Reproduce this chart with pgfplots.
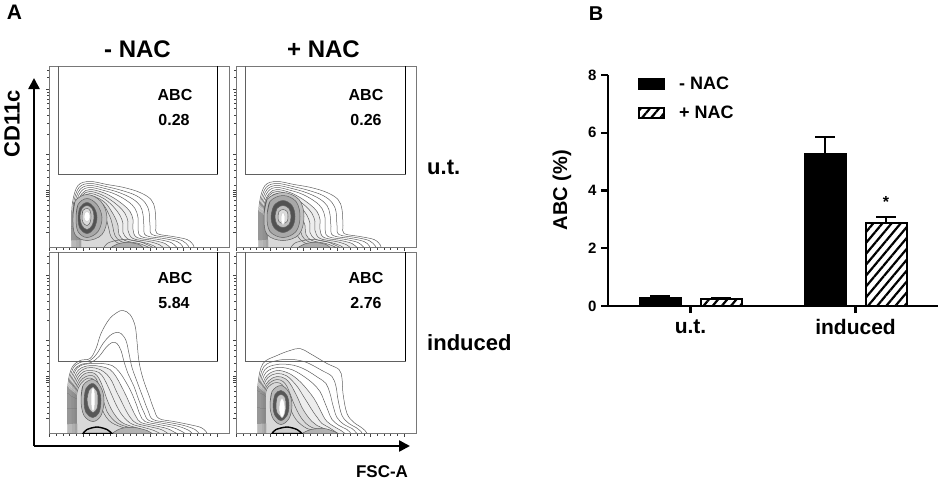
\documentclass[border=0pt]{standalone}
\usepackage{fontspec}
\setmainfont{Liberation Sans}
\usepackage{pgfplots}
\pgfplotsset{compat=1.18}
\usetikzlibrary{arrows.meta, patterns.meta}

\newcommand\fs[1]{\fontsize{#1}{#1}\selectfont\bfseries}
\definecolor{cline}{RGB}{95,95,95}
\definecolor{frame}{RGB}{120,120,120}

\pgfplotsset{
  facs/.style={
    scale only axis, width=180pt, height=181pt,
    xmin=0, xmax=180, ymin=0, ymax=181,
    axis line style={frame, line width=0.6pt},
    tick align=outside, xtick pos=left, ytick pos=left,
    xtick={0.5,34,67.5,101,134.5,168}, minor x tick num=4,
    ytick={15,51,53,55,57,93.7,158},
    minor ytick={20,26,31,37,42,47,62,70,77,83,88,113,124,132,139,144,148,152,155,170,177},
    xticklabels={}, yticklabels={},
    major tick length=3pt, minor tick length=2pt,
    tick style={black!75, line width=0.6pt},
  },
  cl/.style={cline, line width=0.5pt, smooth, tension=0.6, mark=none},
  gate/.style={frame!80!black, line width=0.6pt, mark=none},
  legimg/.style={legend image code/.code={\draw[##1, line width=2pt] (0pt,-5pt) rectangle (25pt,5pt);}},
}

% contours shared by the two untreated panels
\newcommand\topouter{%
\addplot[cl] coordinates {(23,0)(22.5,22)(23.5,45)(29,62)(41,66)(58,63)(75,60)(91,55)(102,48)(106,38)(107,22)(108,14)(124,11)(138,8)(144,3)(145,0)};
\addplot[cl] coordinates {(24,0)(23.5,22)(24.5,44)(30,60)(41,64)(57,61)(73,57)(87,52)(96,45)(100,36)(101,22)(103,13)(120,10)(133,7)(139,2)(140,0)};
\addplot[cl] coordinates {(25,0)(24.5,22)(25.5,43)(31,58)(41,62)(56,59)(70,55)(83,49)(91,42)(94,33)(95,21)(97,12)(115,9)(128,6)(133,2)(134,0)};
\addplot[cl] coordinates {(26,0)(25.5,22)(26.5,42)(32,56)(41,60)(55,57)(67,53)(79,46)(86,39)(89,30)(89,20)(92,11)(110,8)(122,5)(127,1)(128,0)};
\addplot[cl, fill=gray!14] coordinates {(27,0)(26.5,22)(27.5,41)(33,54)(41,58)(54,55)(64,50)(74,43)(81,36)(84,28)(84,18)(88,10)(105,7)(116,4)(121,0)} \closedcycle;
\addplot[cl] coordinates {(28,0)(27.5,22)(28.5,40)(33,52)(41,56)(52,53)(61,48)(70,41)(76,34)(79,26)(79,17)(84,9)(100,6)(110,3)(114,0)};
\addplot[cl] coordinates {(29,0)(28.5,22)(29.5,39)(34,50)(41,54)(51,51)(59,46)(66,39)(71,32)(74,24)(74,15)(80,8)(95,5)(104,2)(107,0)};
\addplot[cl, fill=gray!30] coordinates {(30,0)(29.5,22)(30.5,38)(35,48)(41,52)(50,49)(57,44)(62,37)(66,30)(69,22)(70,13)(76,7)(90,4)(98,1)(100,0)} \closedcycle;
\addplot[cl] coordinates {(31,0)(30.5,22)(31.5,37)(36,46)(42,50)(49,47)(55,42)(59,35)(62,28)(64,20)(66,12)(72,6)(85,3)(92,0)};
\addplot[cl] coordinates {(32,0)(31.5,22)(32.5,36)(37,44)(42,47)(48,45)(53,40)(56,33)(58,26)(60,18)(62,11)(68,5)(80,2)(86,0)};
\addplot[cl] coordinates {(55,0)(60,5)(75,8)(90,6)(100,2)(104,0)};
\addplot[cl, fill=gray!65] coordinates {(62,0)(70,4)(80,5)(90,3)(94,0)} \closedcycle;
}

\begin{document}
\begin{tikzpicture}[x=1pt, y=1pt]
\useasboundingbox (0,0) rectangle (941,-480);

% ---------- panel A: big FSC-A / CD11c arrows ----------
\begin{axis}[at={(34pt,-446pt)}, anchor=south west, scale only axis,
  width=376pt, height=368pt, xmin=0, xmax=1, ymin=0, ymax=1,
  axis lines=left, xtick=\empty, ytick=\empty,
  axis line style={line width=2.4pt, -{Triangle[length=11pt, width=11pt]}}]
\end{axis}

% u.t. -NAC
\begin{axis}[facs, at={(49pt,-247.5pt)}, anchor=south west]
\topouter
\addplot[cl, fill=gray!50] coordinates {(24,30)(26,46)(38,53)(52,46)(58,30)(53,13)(38,7)(26,13)(24,30)(26,46)};
\addplot[cl, fill=gray!68] coordinates {(27,30)(29,43)(38,49)(48,43)(53,30)(49,16)(38,10)(29,16)(27,30)(29,43)};
\addplot[cl, fill=black!68] coordinates {(29,30)(31,40)(38,45)(45,40)(48,30)(45,19)(38,14)(31,19)(29,30)(31,40)};
\addplot[cl, fill=gray!50] coordinates {(31,31)(33,39)(38,42)(43,39)(45,31)(43,22)(38,18)(33,22)(31,31)(33,39)};
\addplot[cl, fill=gray!28] coordinates {(33,31)(34,37)(38,39)(41,37)(42,31)(41,25)(38,22)(34,25)(33,31)(34,37)};
\addplot[cl, draw=gray!40, fill=white] coordinates {(35,31)(36,35)(38,36)(40,35)(41,31)(40,27)(38,26)(36,27)(35,31)(36,35)};
\addplot[gate] coordinates {(9,182)(9,73.5)(168,73.5)(168,182)};
\addplot[black, line width=0.9pt, mark=none] coordinates {(168,182)(168,73.5)};
\end{axis}

% u.t. +NAC
\begin{axis}[facs, at={(236pt,-247.5pt)}, anchor=south west]
\topouter
\addplot[cl, fill=gray!50] coordinates {(28,31)(31,48)(47,55)(63,48)(68,31)(63,13)(47,7)(31,13)(28,31)(31,48)};
\addplot[cl, fill=gray!68] coordinates {(31,31)(34,46)(47,52)(60,46)(64,31)(60,16)(47,10)(34,16)(31,31)(34,46)};
\addplot[cl, fill=black!68] coordinates {(35,31)(38,42)(47,47)(56,42)(59,31)(56,20)(47,15)(38,20)(35,31)(38,42)};
\addplot[cl, fill=gray!50] coordinates {(39,31)(41,39)(47,42)(53,39)(55,31)(53,23)(47,20)(41,23)(39,31)(41,39)};
\addplot[cl, fill=gray!28] coordinates {(42,31)(43,36)(47,38)(51,36)(52,31)(51,26)(47,24)(43,26)(42,31)(43,36)};
\addplot[cl, draw=gray!40, fill=white] coordinates {(45,29)(45.5,33)(47,35)(48.5,33)(49,29)(48.5,25)(47,23)(45.5,25)(45,29)(45.5,33)};
\addplot[gate] coordinates {(9,182)(9,73.5)(169,73.5)(169,182)};
\addplot[black, line width=0.9pt, mark=none] coordinates {(169,182)(169,73.5)};
\end{axis}

% induced -NAC
\begin{axis}[facs, at={(49pt,-433.5pt)}, anchor=south west]
\addplot[cl] coordinates {(19,0)(18.5,25)(19,50)(23,66)(31,73)(41,75)(47,85)(52,100)(60,114)(68,121)(74,123)(81,119)(86,108)(88,92)(90,72)(94,55)(100,38)(105,24)(110,15)(125,12)(140,9)(152,6)(157,2)(158,0)};
\addplot[cl] coordinates {(20,0)(19.5,25)(20,49)(24,65)(31,71)(41,73)(48,80)(54,90)(61,98)(67,101)(72,100)(77,93)(80,80)(83,66)(88,52)(94,36)(99,23)(104,14)(120,11)(135,8)(146,4)(150,0)};
\addplot[cl] coordinates {(21,0)(20.5,25)(21,48)(25,63)(32,69)(42,71)(50,77)(57,86)(63,91)(68,90)(72,83)(75,72)(79,60)(85,47)(90,33)(95,21)(100,13)(115,10)(130,7)(140,3)(143,0)};
\addplot[cl] coordinates {(22,0)(21.5,25)(22,47)(26,62)(32,68)(42,70)(53,70)(63,68)(70,62)(76,53)(82,42)(87,30)(91,19)(96,12)(110,9)(124,6)(133,2)(136,0)};
\addplot[cl, fill=gray!14] coordinates {(23,0)(22.5,25)(23,46)(27,60)(33,66)(42,68)(52,67)(61,64)(67,57)(72,48)(77,38)(82,27)(87,17)(92,11)(105,8)(118,5)(126,1)(128,0)} \closedcycle;
\addplot[cl] coordinates {(24,0)(23.5,25)(24,45)(28,58)(34,64)(42,66)(51,64)(58,59)(63,52)(67,43)(72,33)(77,23)(82,15)(88,10)(100,7)(112,4)(119,0)};
\addplot[cl] coordinates {(25,0)(24.5,25)(25,44)(29,56)(35,62)(42,63)(50,61)(55,55)(59,47)(63,38)(67,29)(72,20)(78,13)(84,9)(95,6)(105,3)(111,0)};
\addplot[cl, fill=gray!30] coordinates {(26,0)(25.5,25)(26,43)(30,54)(36,60)(43,61)(48,58)(52,51)(55,43)(58,34)(62,25)(67,17)(73,11)(80,8)(90,5)(98,2)(103,0)} \closedcycle;
\addplot[cl] coordinates {(27,0)(26.5,25)(27,42)(31,52)(37,57)(43,58)(47,55)(50,48)(52,40)(55,31)(58,22)(63,15)(69,10)(77,7)(86,4)(93,1)(95,0)};
\addplot[cl] coordinates {(28,0)(27.5,25)(28,41)(32,50)(38,55)(43,55)(46,52)(48,45)(50,37)(52,28)(55,20)(60,13)(66,9)(74,6)(82,3)(87,0)};
\addplot[cl, fill=gray!55] coordinates {(32,33)(34,48)(44,54)(52,46)(55,33)(52,18)(44,12)(35,18)(32,33)(34,48)};
\addplot[cl, fill=black!66] coordinates {(35,33)(37,45)(44,50)(50,43)(52,33)(50,21)(44,16)(37,21)(35,33)(37,45)};
\addplot[cl, fill=gray!45] coordinates {(38,34)(40,43)(44,46)(48,42)(49,34)(48,25)(44,21)(40,25)(38,34)(40,43)};
\addplot[cl, draw=gray!40, fill=white] coordinates {(42,35)(42.5,43)(44,46)(45.5,43)(46,35)(45.5,26)(44,22)(42.5,26)(42,35)(42.5,43)};
\addplot[cl, fill=gray!60] coordinates {(63,0)(72,5)(85,6)(98,3)(103,0)} \closedcycle;
\addplot[smooth, black, line width=1.4pt, fill=gray!40, mark=none] coordinates {(34,0)(38,4)(48,6.5)(58,4)(63,0)} \closedcycle;
\addplot[gate] coordinates {(9,182)(9,72.5)(168,72.5)(168,182)};
\addplot[black, line width=0.9pt, mark=none] coordinates {(168,182)(168,72.5)};
\end{axis}

% induced +NAC
\begin{axis}[facs, at={(236pt,-433.5pt)}, anchor=south west]
\addplot[cl] coordinates {(22,0)(21.5,25)(22,50)(27,70)(41,78)(54,83)(64,85)(74,80)(91,70)(103,64)(106,55)(107,40)(111,20)(118,11)(124,7)(129,3)(131,0)};
\addplot[cl] coordinates {(23,0)(22.5,25)(23,49)(28,67)(41,73)(54,74)(64,73)(73,70)(86,63)(96,57)(100,47)(102,34)(106,18)(113,10)(120,6)(125,2)(126,0)};
\addplot[cl] coordinates {(24,0)(23.5,25)(24,48)(29,64)(41,69)(53,69)(62,67)(71,63)(82,56)(90,50)(94,40)(97,28)(101,16)(108,9)(116,5)(120,1)(121,0)};
\addplot[cl] coordinates {(25,0)(24.5,25)(25,47)(30,61)(41,66)(52,65)(60,62)(68,57)(77,50)(84,42)(88,33)(92,23)(96,14)(103,8)(111,4)(115,0)};
\addplot[cl, fill=gray!14] coordinates {(26,0)(25.5,25)(26,46)(31,58)(41,63)(51,61)(58,57)(65,51)(72,43)(78,35)(83,26)(87,18)(91,12)(98,7)(105,3)(109,0)} \closedcycle;
\addplot[cl] coordinates {(27,0)(26.5,25)(27,45)(32,56)(41,60)(50,58)(56,53)(62,46)(67,38)(72,30)(77,22)(82,15)(86,10)(93,6)(99,2)(102,0)};
\addplot[cl, fill=gray!30] coordinates {(28,0)(27.5,25)(28,44)(33,53)(41,57)(49,55)(54,50)(58,43)(62,35)(66,26)(71,18)(76,12)(81,8)(88,5)(93,2)(96,0)} \closedcycle;
\addplot[cl] coordinates {(29,0)(28.5,25)(29,43)(34,51)(41,54)(47,52)(51,47)(54,40)(57,32)(61,23)(65,16)(70,10)(76,6)(83,4)(88,1)(90,0)};
\addplot[cl] coordinates {(30,0)(29.5,25)(30,42)(35,49)(41,51)(46,49)(49,44)(51,37)(53,29)(56,21)(60,14)(65,9)(71,5)(78,3)(82,0)};
\addplot[cl, fill=gray!55] coordinates {(34,28)(36,42)(45,48)(53,41)(56,28)(53,15)(45,9)(37,15)(34,28)(36,42)};
\addplot[cl, fill=black!66] coordinates {(37,28)(39,39)(45,43)(51,38)(53,28)(51,18)(45,13)(39,18)(37,28)(39,39)};
\addplot[cl, fill=gray!45] coordinates {(40,28)(41,36)(45,39)(49,36)(50,28)(49,21)(45,17)(41,21)(40,28)(41,36)};
\addplot[cl, draw=gray!40, fill=white] coordinates {(43,25)(44,32)(46,35)(48,32)(49,25)(48,19)(46,16)(44,19)(43,25)(44,32)};
\addplot[cl, fill=gray!60] coordinates {(66,0)(75,4)(88,5)(98,2)(102,0)} \closedcycle;
\addplot[smooth, black, line width=1.4pt, fill=gray!40, mark=none] coordinates {(36,0)(40,4)(51,6.5)(61,4)(66,0)} \closedcycle;
\addplot[gate] coordinates {(9,182)(9,72.5)(169,72.5)(169,182)};
\addplot[black, line width=0.9pt, mark=none] coordinates {(169,182)(169,72.5)};
\end{axis}

% panel A texts
\node at (14.5,-12.5) {\fs{21}A};
\node[anchor=base] at (137.5,-57) {\fs{24}- NAC};
\node[anchor=base] at (323.5,-57) {\fs{24}+ NAC};
\node[rotate=90] at (12,-123.5) {\fs{22}CD11c};
\node[anchor=base] at (382,-477) {\fs{17}FSC-A};
\node[anchor=base west, inner sep=0pt] at (427,-174) {\fs{22}u.t.};
\node[anchor=base west, inner sep=0pt] at (427,-350) {\fs{22}induced};
\node at (175,-95) {\fs{16}ABC};
\node at (174,-120) {\fs{16}0.28};
\node at (366,-95) {\fs{16}ABC};
\node at (366,-120) {\fs{16}0.26};
\node at (175,-278) {\fs{16}ABC};
\node at (174,-303) {\fs{16}5.84};
\node at (366,-278) {\fs{16}ABC};
\node at (366,-303) {\fs{16}2.76};

% ---------- panel B ----------
\begin{axis}[at={(608pt,-306pt)}, anchor=south west, scale only axis,
  width=330pt, height=231pt,
  xmin=-0.5, xmax=1.5, ymin=0, ymax=8,
  axis x line=bottom, axis y line=left,
  axis line style={line width=2.4pt, -},
  ytick={0,2,4,6,8}, xtick={0,1}, xticklabels={u.t., induced},
  tick align=outside, major tick length=7pt,
  tick style={line width=2.4pt, black},
  /pgf/number format/assume math mode=true,
  yticklabel style={font=\fs{15}, xshift=-1pt},
  xticklabel style={font=\fs{21}, yshift=-3pt},
  ybar, bar width=41pt,
  legend style={at={(0.091,1.0)}, anchor=north west, draw=none, fill=none,
    font=\fs{18}, row sep=11pt, column sep=12pt, inner sep=0pt, cells={anchor=west}},
  legend cell align=left,
  error bars/y dir=plus, error bars/y explicit,
  error bars/error bar style={line width=2pt, black},
  error bars/error mark options={rotate=90, mark size=10pt, line width=2pt, black},
]
\addplot[ybar, bar shift=-30.5pt, fill=black, draw=black, line width=2pt, legimg,
  error bars/y dir=plus, error bars/y explicit]
  coordinates {(0,0.29) +- (0,0.05) (1,5.28) +- (0,0.56)};
\addplot[ybar, bar shift=30.5pt, draw=black, line width=2pt,
  pattern={Lines[angle=50, distance=7pt, line width=2.2pt]}, pattern color=black, legimg,
  error bars/y dir=plus, error bars/y explicit]
  coordinates {(0,0.23) +- (0,0.06) (1,2.88) +- (0,0.19)};
\legend{- NAC, + NAC}
\node at (axis cs:1.185,3.6) {\fs{16}*};
\end{axis}
\node[rotate=90] at (562,-190) {\fs{20}ABC (\%)};
\node at (596,-14) {\fs{20}B};
\end{tikzpicture}
\end{document}
